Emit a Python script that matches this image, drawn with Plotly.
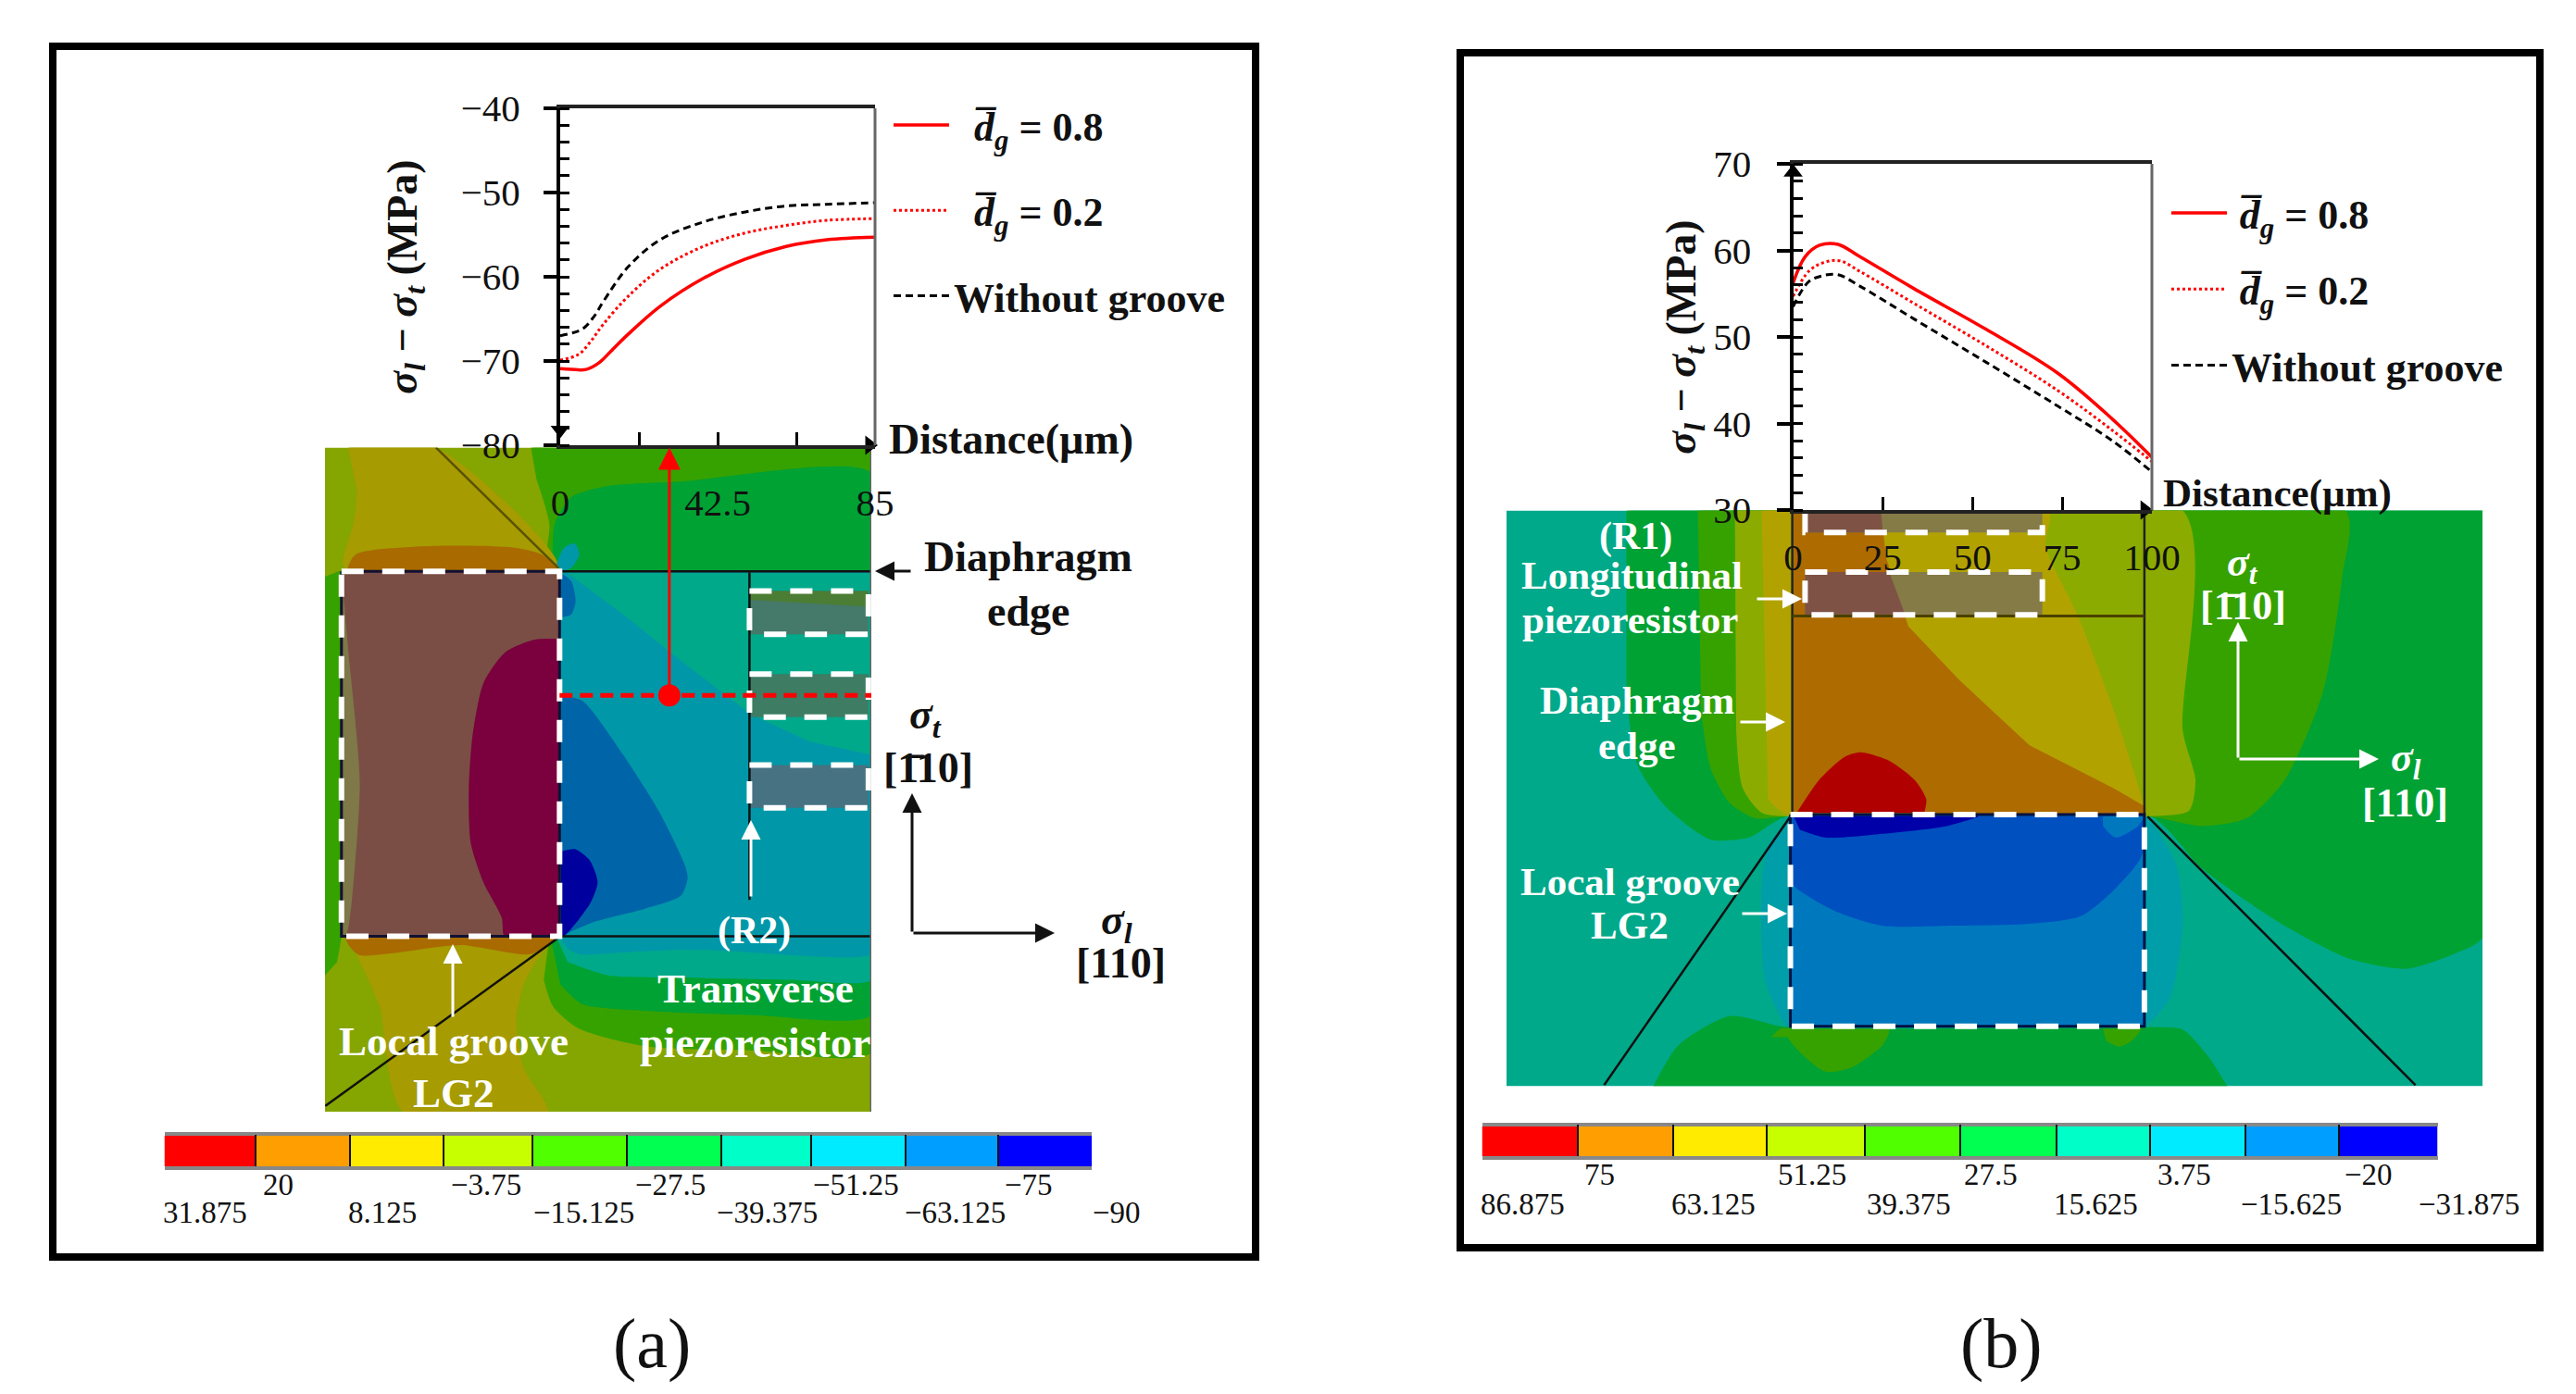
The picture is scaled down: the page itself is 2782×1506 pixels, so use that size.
import plotly.graph_objects as go

W, H = 2782, 1506
FONT = "Liberation Serif"

# ---- line chart data ----
a_x_08 = [0, 3, 7, 10.5, 14, 18.4, 27, 38.6, 50, 61, 72, 85]
a_y_08 = [-70.9, -71.0, -71.0, -70.2, -68.7, -66.8, -63.5, -60.2, -57.9, -56.4, -55.6, -55.3]
a_x_02 = [0, 5, 8, 11.7, 18.4, 27, 38.6, 50, 61, 72, 85]
a_y_02 = [-69.9, -69.2, -67.8, -65.6, -62.3, -59.1, -56.4, -54.8, -53.9, -53.3, -53.1]
a_x_no = [0, 6, 9, 11.7, 18.4, 27, 38.6, 50, 61, 72, 85]
a_y_no = [-67.0, -66.2, -64.8, -62.9, -58.8, -55.6, -53.5, -52.3, -51.6, -51.4, -51.2]

b_x_08 = [0, 3.4, 7.4, 12.5, 18.5, 33.6, 53.7, 73.8, 89, 100]
b_y_08 = [56.25, 59.3, 60.6, 60.7, 59.3, 55.6, 50.9, 45.8, 40.5, 36.1]
b_x_02 = [0, 4.4, 8.5, 13, 18.5, 33.6, 53.7, 73.8, 89, 100]
b_y_02 = [54.7, 57.6, 58.6, 58.8, 57.6, 53.9, 49.0, 43.8, 39.2, 35.6]
b_x_no = [0, 4.4, 8.5, 12.5, 18.5, 33.6, 53.7, 73.8, 89, 100]
b_y_no = [53.5, 56.4, 57.1, 57.2, 55.9, 52.1, 47.1, 42.0, 38.0, 34.4]

a_yticks = [-80, -70, -60, -50, -40]
a_ylabels = ["\u221280", "\u221270", "\u221260", "\u221250", "\u221240"]
a_xticks = [0, 21.25, 42.5, 63.75, 85]
a_xlabels = ["0", " ", "42.5", " ", "85"]
b_yticks = [30, 40, 50, 60, 70]
b_ylabels = ["30", "40", "50", "60", "70"]
b_xticks = [0, 25, 50, 75, 100]
b_xlabels = ["0", "25", "50", "75", "100"]

# ---- colour bars ----
band_colors = ["#FF0000", "#FF9E00", "#FFEB00", "#C8FF00", "#50FF00",
               "#00FF50", "#00FFC8", "#00EBFF", "#009EFF", "#0000FF"]
cb_a_edges = [25, 165, 310, 455, 592, 737, 882, 1020, 1165, 1308, 1452]
cb_a_upper = ["20", "\u22123.75", "\u221227.5", "\u221251.25", "\u221275"]
cb_a_upper_pos = [200, 520, 803, 1090, 1355]
cb_a_lower = ["31.875", "8.125", "\u221215.125", "\u221239.375", "\u221263.125", "\u221290"]
cb_a_lower_pos = [87, 360, 670, 953, 1242, 1490]
cb_b_edges = [52, 185, 317, 447, 582, 714, 848, 978, 1110, 1240, 1376]
cb_b_upper = ["75", "51.25", "27.5", "3.75", "\u221220"]
cb_b_upper_pos = [215, 510, 757, 1025, 1280]
cb_b_lower = ["86.875", "63.125", "39.375", "15.625", "\u221215.625", "\u221231.875"]
cb_b_lower_pos = [108, 373, 644, 903, 1173, 1420]

# ---- contour colours ----
DGREEN, MGREEN, OLIVE = "#00A233", "#36A200", "#85A500"
DYEL, ORANGE = "#A69B00", "#A96A00"
TEALG, TEALB, BLUE, NAVY = "#00A98A", "#0098A8", "#0065A8", "#00009E"

# ---- field (a) contour bands, in the field's own grid units ----
fa_xr = [27, 1520]
fa_yr = [1528, 28]
fa_base = [(27, 28), (1520, 28), (1520, 1528), (27, 1528)]
fa_top_mgreen = [(590, 28), (1520, 28), (1520, 320), (640, 320), (640, 200), (605, 100)]
fa_top_dgreen = [(650, 320), (655, 200), (700, 140), (800, 115), (1000, 105), (1520, 85), (1520, 320)]
fa_top_yellow = [(90, 28), (330, 28), (665, 300), (80, 300), (105, 200), (115, 130)]
fa_top_orange = [(85, 310), (110, 270), (350, 250), (550, 255), (620, 270), (665, 305), (85, 312)]
fa_left_green = [(27, 320), (72, 305), (72, 1135), (60, 1190), (27, 1220)]
fa_right_teal = [(668, 308), (1520, 308), (1520, 1172), (1000, 1162), (720, 1172), (668, 1132)]
fa_right_tealg = [(690, 312), (1520, 312), (1520, 722), (1350, 692), (1190, 630), (1000, 510), (850, 410)]
fa_right_blue = [(672, 590), (730, 600), (840, 720), (940, 850), (1010, 970), (1018, 1000),
                 (1000, 1040), (900, 1070), (760, 1100), (672, 1132)]
fa_small_blue = [(672, 312), (700, 330), (712, 375), (700, 405), (672, 412)]
fa_navy = [(672, 940), (710, 935), (750, 960), (772, 1010), (750, 1060), (680, 1132), (672, 1132)]
fa_knob = [(660, 290), (680, 255), (710, 245), (722, 270), (700, 300), (672, 308)]
fa_groove = [(72, 308), (668, 308), (668, 1132), (72, 1132)]
fa_groove_olive = [(72, 312), (90, 480), (122, 780), (110, 960), (85, 1128), (72, 1128)]
fa_groove_maroon = [(668, 460), (600, 462), (520, 490), (460, 560), (430, 680), (420, 800), (425, 920), (460, 1010),
                    (510, 1090), (515, 1128), (525, 1130), (650, 1130), (666, 1130), (667, 1115), (667, 480)]
fa_low_yellow = [(90, 1135), (665, 1135), (620, 1170), (570, 1240), (550, 1320), (570, 1430),
                 (635, 1528), (240, 1528), (190, 1370), (180, 1300), (140, 1220)]
fa_low_mgreen = [(640, 1135), (1520, 1135), (1520, 1395), (1200, 1390), (900, 1380), (720, 1340),
                 (650, 1290), (625, 1230)]
fa_low_dgreen = [(645, 1140), (1520, 1140), (1520, 1310), (1200, 1310), (900, 1300), (730, 1285),
                 (670, 1240)]
fa_low_tealg = [(660, 1135), (1520, 1135), (1520, 1230), (1300, 1230), (1000, 1225), (800, 1220), (690, 1190)]
fa_low_teal = [(665, 1132), (1520, 1132), (1520, 1172), (1000, 1160), (720, 1172), (690, 1160)]
fa_low_orange = [(80, 1132), (665, 1132), (590, 1172), (540, 1170), (400, 1152), (120, 1174), (90, 1150)]
fa_res1 = [(1187, 352), (1512, 352), (1512, 450), (1187, 450)]
fa_res1_band = [(1187, 352), (1512, 352), (1512, 388), (1187, 372)]
fa_res2 = [(1187, 540), (1512, 540), (1512, 637), (1187, 637)]
fa_res3 = [(1187, 745), (1512, 745), (1512, 842), (1187, 842)]

fa_layers = [
    (fa_base, OLIVE, False), (fa_top_mgreen, MGREEN, True), (fa_top_dgreen, DGREEN, True),
    (fa_top_yellow, DYEL, True), (fa_top_orange, ORANGE, True), (fa_left_green, MGREEN, False),
    (fa_low_yellow, DYEL, True), (fa_low_mgreen, MGREEN, True), (fa_low_dgreen, DGREEN, True),
    (fa_low_tealg, TEALG, True), (fa_low_teal, TEALB, True), (fa_low_orange, ORANGE, True),
    (fa_right_teal, TEALB, False), (fa_right_tealg, TEALG, False), (fa_right_blue, BLUE, True),
    (fa_small_blue, BLUE, True), (fa_navy, NAVY, True), (fa_knob, TEALB, True),
    (fa_groove, "#7A4E45", False), (fa_groove_olive, "#7F7848", True), (fa_groove_maroon, "#7A003E", True),
    (fa_res1, "#45796A", False), (fa_res1_band, "#4B7D34", False), (fa_res2, "#3E7C64", False), (fa_res3, "#467282", False),
]
fa_lines = [
    ([(330, 28), (665, 300)], "#5A5200", 2.5), ([(28, 1515), (665, 1135)], "#111111", 2.5),
    ([(668, 308), (1520, 308)], "#111111", 2.5), ([(668, 1132), (1520, 1132)], "#111111", 2.5),
    ([(1187, 310), (1187, 1050)], "#111111", 2.5), ([(72, 308), (668, 308), (668, 1132), (72, 1132), (72, 308)], "#111133", 3),
    ([(1520, 28), (1520, 1528)], "#666666", 3),
]
fa_dashed = [
    [(72, 308), (668, 308), (668, 1132), (72, 1132), (72, 308)],
    fa_res1 + fa_res1[:1], fa_res2 + fa_res2[:1], fa_res3 + fa_res3[:1],
]
fa_red_line = [(668, 588), (1520, 588)]
fa_red_dot = [(968, 588)]

# ---- field (b) contour bands ----
fb_xr = [10, 1540]
fb_yr = [1528, 28]
B_YEL, B_OR = "#B2A200", "#AE6B00"
fb_base = [(10, 28), (1540, 28), (1540, 1528), (10, 1528)]
fb_dgreen = [(198, 28), (1540, 28), (1540, 1140), (1500, 1180), (1420, 1222), (1330, 1195), (1220, 1100),
             (1100, 960), (1015, 820), (450, 825), (390, 880), (330, 885), (260, 800), (215, 690), (198, 500)]
fb_mgreen = [(310, 28), (1325, 28), (1320, 200), (1290, 500), (1230, 730), (1170, 830), (1100, 850),
             (1015, 825), (450, 825), (400, 830), (360, 790), (330, 700), (315, 550)]
fb_olive = [(368, 28), (1070, 28), (1070, 600), (1090, 730), (1080, 810), (1015, 825), (455, 825),
            (410, 815), (380, 750), (370, 600)]
fb_yellow = [(410, 28), (860, 28), (855, 120), (905, 300), (960, 540), (1010, 800), (1012, 820),
             (450, 820), (420, 780)]
fb_orange = [(460, 28), (597, 28), (605, 150), (640, 330), (720, 470), (830, 640), (960, 750),
             (1012, 800), (1012, 822), (460, 822)]
fb_red = [(465, 815), (500, 730), (540, 670), (565, 658), (610, 680), (650, 730), (668, 780), (665, 815)]
fb_halo = [(457, 826), (420, 900), (410, 1000), (415, 1250), (450, 1372), (470, 1372), (990, 1372), (1010, 1372),
           (1050, 1300), (1070, 1100), (1060, 950), (1013, 826), (990, 824), (480, 824)]
fb_groove = [(455, 820), (1010, 820), (1010, 1372), (455, 1372)]
fb_blue = [(458, 824), (475, 824), (990, 824), (1008, 824), (1005, 930), (960, 1020), (910, 1085), (830, 1105), (700, 1110),
           (600, 1110), (530, 1075), (480, 1030), (458, 1000), (458, 850)]
fb_navy = [(460, 824), (480, 824), (730, 824), (750, 824), (700, 850), (600, 870), (510, 880), (470, 860)]
fb_corner = [(945, 824), (960, 824), (1000, 824), (1008, 826), (1000, 850), (965, 880), (945, 850)]
fb_low_dgreen = [(240, 1528), (280, 1420), (360, 1345), (440, 1372), (470, 1376), (990, 1376), (1030, 1374), (1070, 1380),
                 (1110, 1450), (1140, 1528)]
fb_low_m1 = [(425, 1400), (440, 1378), (460, 1378), (590, 1378), (610, 1380), (600, 1420), (550, 1480), (510, 1490), (470, 1440), (450, 1400)]
fb_low_m2 = [(945, 1378), (960, 1378), (990, 1378), (1005, 1378), (990, 1410), (970, 1425), (950, 1410)]
fb_r_top = [(478, 28), (850, 28), (850, 85), (478, 85)]
fb_r_top_l = [(478, 28), (597, 28), (600, 85), (478, 85)]
fb_r_low = [(478, 188), (850, 188), (850, 300), (478, 300)]
fb_r_low_l = [(478, 188), (610, 188), (635, 300), (478, 300)]

fb_layers = [
    (fb_base, TEALG, False), (fb_dgreen, DGREEN, True), (fb_mgreen, MGREEN, True), (fb_olive, "#8CAB00", True),
    (fb_yellow, B_YEL, True), (fb_orange, B_OR, False), (fb_red, "#B00000", True), (fb_halo, "#009EA8", True),
    (fb_groove, "#0078BE", False), (fb_blue, "#0050C0", True), (fb_navy, "#0000A8", True), (fb_corner, "#0078BE", True),
    (fb_low_dgreen, DGREEN, True), (fb_low_m1, MGREEN, True), (fb_low_m2, MGREEN, True),
    (fb_r_top, "#857B47", False), (fb_r_top_l, "#7E5345", False), (fb_r_low, "#857B47", False), (fb_r_low_l, "#7E5345", False),
]
fb_lines = [
    ([(458, 28), (458, 820)], "#222222", 2.5), ([(1010, 28), (1010, 820)], "#222222", 2.5),
    ([(458, 303), (1010, 303)], "#4A4000", 3), ([(455, 825), (163, 1525)], "#111111", 2.5),
    ([(1015, 825), (1435, 1525)], "#111111", 2.5),
    ([(455, 820), (1010, 820), (1010, 1372), (455, 1372), (455, 820)], "#001144", 3),
]
fb_dashed = [
    fb_groove + fb_groove[:1],
    [(478, 28), (478, 85), (850, 85), (850, 28)],
    fb_r_low + fb_r_low[:1],
]


def dx(a, b):
    return [a / W, b / W]


def dy(a, b):
    return [1 - b / H, 1 - a / H]


fig = go.Figure()


def add_field(layers, lines, dashed, xa, ya):
    for pts, col, smooth in layers:
        fig.add_trace(go.Scatter(x=[p[0] for p in pts], y=[p[1] for p in pts], mode="lines", fill="toself",
                                 fillcolor=col, line=dict(width=0, shape="spline" if smooth else "linear", smoothing=0.7),
                                 hoverinfo="skip", showlegend=False, xaxis=xa, yaxis=ya))
    for pts, col, w in lines:
        fig.add_trace(go.Scatter(x=[p[0] for p in pts], y=[p[1] for p in pts], mode="lines",
                                 line=dict(color=col, width=w), hoverinfo="skip", showlegend=False, xaxis=xa, yaxis=ya))
    for pts in dashed:
        fig.add_trace(go.Scatter(x=[p[0] for p in pts], y=[p[1] for p in pts], mode="lines",
                                 line=dict(color="white", width=6, dash="24px,20px"), hoverinfo="skip",
                                 showlegend=False, xaxis=xa, yaxis=ya))


add_field(fa_layers, fa_lines, fa_dashed, "x", "y")
fig.add_trace(go.Scatter(x=[p[0] for p in fa_red_line], y=[p[1] for p in fa_red_line], mode="lines",
                         line=dict(color="#FF0000", width=5, dash="14px,8px"), hoverinfo="skip", showlegend=False, xaxis="x", yaxis="y"))
fig.add_trace(go.Scatter(x=[p[0] for p in fa_red_dot], y=[p[1] for p in fa_red_dot], mode="markers",
                         marker=dict(color="#FF0000", size=24), hoverinfo="skip", showlegend=False, xaxis="x", yaxis="y"))
add_field(fb_layers, fb_lines, fb_dashed, "x2", "y2")

# colour bars
n = len(band_colors)
scale = []
for i, c in enumerate(band_colors):
    scale += [[i / n, c], [(i + 1) / n, c]]
fig.add_trace(go.Heatmap(z=[list(range(n))], x=cb_a_edges, y=[0, 1], colorscale=scale, zmin=-0.5, zmax=n - 0.5,
                         showscale=False, hoverinfo="skip", xaxis="x3", yaxis="y3"))
fig.add_trace(go.Heatmap(z=[list(range(n))], x=cb_b_edges, y=[0, 1], colorscale=scale, zmin=-0.5, zmax=n - 0.5,
                         showscale=False, hoverinfo="skip", xaxis="x4", yaxis="y4"))

# line charts
A_KEY08 = "<b>\u2002<i>d\u0305<sub>g</sub></i> = 0.8</b>"
A_KEY02 = "<b>\u2002<i>d\u0305<sub>g</sub></i> = 0.2</b>"
B_KEY08 = "<b>\u2009<i>d\u0305<sub>g</sub></i> = 0.8</b>"
B_KEY02 = "<b>\u2009<i>d\u0305<sub>g</sub></i> = 0.2</b>"
KEYNO = "<b>Without groove</b>"
for xs, ys, name, ln, xa, ya, lg in [
    (a_x_08, a_y_08, A_KEY08, dict(color="#FF0000", width=3.5), "x5", "y5", "legend"),
    (a_x_02, a_y_02, A_KEY02, dict(color="#FF0000", width=3, dash="dot"), "x5", "y5", "legend"),
    (a_x_no, a_y_no, KEYNO, dict(color="#000000", width=3, dash="8px,5px"), "x5", "y5", "legend"),
    (b_x_08, b_y_08, B_KEY08, dict(color="#FF0000", width=3.5), "x6", "y6", "legend2"),
    (b_x_02, b_y_02, B_KEY02, dict(color="#FF0000", width=3, dash="dot"), "x6", "y6", "legend2"),
    (b_x_no, b_y_no, KEYNO, dict(color="#000000", width=3, dash="8px,5px"), "x6", "y6", "legend2"),
]:
    ln = dict(ln, shape="spline", smoothing=1.0)
    fig.add_trace(go.Scatter(x=xs, y=ys, name=name, mode="lines", line=ln, xaxis=xa, yaxis=ya, legend=lg,
                             legendgroup=lg + name, cliponaxis=False))

for xs, ys, sym, xa, ya in [
    ([0], [-78.2], "triangle-down", "x5", "y5"), ([83.5], [-80], "triangle-right", "x5", "y5"),
    ([0], [69], "triangle-up", "x6", "y6"), ([98], [30], "triangle-right", "x6", "y6"),
]:
    fig.add_trace(go.Scatter(x=xs, y=ys, mode="markers", marker=dict(symbol=sym, color="black", size=18),
                             hoverinfo="skip", showlegend=False, cliponaxis=False, xaxis=xa, yaxis=ya))

tickf = dict(family=FONT, size=41, color="#111111")


def yax(dom, rng, vals, text, anchor, minor_d, stand, title_stand):
    return dict(domain=dom, range=rng, anchor=anchor, tickvals=vals, ticktext=text, ticks="outside", ticklen=14, tickwidth=4,
                tickcolor="black", showline=True, linecolor="black", linewidth=4, showgrid=False, zeroline=False,
                tickfont=tickf, ticklabelstandoff=stand, automargin=False,
                minor=dict(ticks="inside", dtick=minor_d, ticklen=10, tickwidth=3, tickcolor="black", showgrid=False),
                title=dict(text="<b><i>\u03c3<sub>l</sub></i> \u2212 <i>\u03c3<sub>t</sub></i> (MPa)</b>",
                           font=dict(family=FONT, size=46, color="#111111"), standoff=title_stand))


def xax(dom, rng, vals, text, anchor, stand):
    return dict(domain=dom, range=rng, anchor=anchor, tickvals=vals, ticktext=text, ticks="inside", ticklen=14, tickwidth=3,
                tickcolor="black", showline=True, linecolor="#222222", linewidth=4, mirror=True, showgrid=False, zeroline=False,
                tickfont=tickf, ticklabelstandoff=stand, automargin=False)


def hidden(dom, rng, anchor):
    return dict(domain=dom, range=rng, anchor=anchor, visible=False, fixedrange=True)


def barx(dom, rng, anchor, vals):
    return dict(domain=dom, range=rng, anchor=anchor, tickvals=vals, ticks="inside", ticklen=34, tickwidth=2, tickcolor="#111111",
                showticklabels=False, showline=True, linecolor="#888888", linewidth=4, mirror=True, showgrid=False, zeroline=False)


def T(text, X, Y, size=44, color="white", bold=True, xanchor="center"):
    s = f"<b>{text}</b>" if bold else text
    return dict(text=s, x=X / W, y=1 - Y / H, xref="paper", yref="paper", showarrow=False, xanchor=xanchor, yanchor="middle",
                font=dict(family=FONT, size=size, color=color))


def arrow(X0, Y0, X1, Y1, color="white", w=3, size=1.4):
    return dict(text="", x=X1 / W, y=1 - Y1 / H, xref="paper", yref="paper", ax=X0 - X1, ay=Y0 - Y1, axref="pixel", ayref="pixel",
                showarrow=True, arrowhead=2, arrowcolor=color, arrowwidth=w, arrowsize=size, standoff=0)


SIG_T = "<i>\u03c3<sub>t</sub></i>"
SIG_L = "<i>\u03c3<sub>l</sub></i>"
ann = [
    T("Distance(\u00b5m)", 958, 475, 46, "#111111", True, "left"),
    T("Diaphragm", 1110, 601, 46, "#111111"), T("edge", 1110, 660, 46, "#111111"),
    T(SIG_T, 1000, 775, 46, "#111111"), T("[1\u030410]", 1002, 830, 46, "#111111"),
    T(SIG_L, 1206, 997, 46, "#111111"), T("[110]", 1210, 1040, 46, "#111111"),
    T("(R2)", 814, 1006, 42), T("Transverse", 816, 1068, 45), T("piezoresistor", 816, 1126, 46),
    T("Local groove", 490, 1125, 45), T("LG2", 490, 1181, 45),
    arrow(985, 617, 945, 617, "#111111"), arrow(985, 1008, 985, 857, "#111111"), arrow(985, 1008, 1139, 1008, "#111111"),
    arrow(489, 1100, 489, 1020), arrow(811, 970, 811, 886),
    dict(text="", x=968, y=28, xref="x", yref="y", ax=968, ay=588, axref="x", ayref="y", showarrow=True, arrowhead=2,
         arrowcolor="#FF0000", arrowwidth=3, arrowsize=1.6, standoff=0),
    T("Distance(\u00b5m)", 2334, 533, 43, "#111111", True, "left"),
    T("(R1)", 1766, 579, 42), T("Longitudinal", 1762, 621, 43), T("piezoresistor", 1761, 669, 43),
    T("Diaphragm", 1768, 756, 43), T("edge", 1768, 805, 43), T("Local groove", 1760, 952, 43), T("LG2", 1760, 999, 43),
    T(SIG_T, 2422, 610, 44), T("[1\u030410]", 2422, 654, 44), T(SIG_L, 2598, 822, 44), T("[110]", 2597, 867, 44),
    arrow(1896, 647, 1946, 647), arrow(1878, 780, 1928, 780), arrow(1880, 987, 1930, 987),
    arrow(2417, 820, 2417, 672), arrow(2417, 820, 2569, 820),
    T("(a)", 704, 1451, 76, "#111111", False), T("(b)", 2161, 1451, 76, "#111111", False),
]


def bar_label_x(p, edges, X0, X1):
    return (X0 + (p - edges[0]) / (edges[-1] - edges[0]) * (X1 - X0)) / W


for labels, pos, Y, edges, X0, X1 in [
    (cb_a_upper, cb_a_upper_pos, 1280, cb_a_edges, 177.5, 1179), (cb_a_lower, cb_a_lower_pos, 1310, cb_a_edges, 177.5, 1179),
    (cb_b_upper, cb_b_upper_pos, 1269, cb_b_edges, 1600.5, 2632.5), (cb_b_lower, cb_b_lower_pos, 1301, cb_b_edges, 1600.5, 2632.5),
]:
    for t, p in zip(labels, pos):
        ann.append(dict(text=t, x=bar_label_x(p, edges, X0, X1), y=1 - Y / H, xref="paper", yref="paper", showarrow=False,
                        xanchor="center", yanchor="middle", font=dict(family=FONT, size=33, color="#111111")))

frame = dict(type="rect", xref="paper", yref="paper", line=dict(color="black", width=8), fillcolor="white", layer="below")
shapes = [
    dict(frame, x0=57 / W, x1=1356 / W, y0=1 - 50 / H, y1=1 - 1358 / H),
    dict(frame, x0=1577 / W, x1=2743 / W, y0=1 - 57 / H, y1=1 - 1348 / H),
    dict(type="line", xref="x5 domain", yref="y5 domain", x0=1, x1=1, y0=0, y1=1, line=dict(color="#666666", width=3)),
    dict(type="line", xref="x6 domain", yref="y6 domain", x0=1, x1=1, y0=0, y1=1, line=dict(color="#666666", width=3)),
]

legend_common = dict(bgcolor="rgba(0,0,0,0)", itemwidth=60, xanchor="left", yanchor="top", traceorder="grouped",
                     font=dict(family=FONT, size=44, color="#111111"), itemclick=False, itemdoubleclick=False)

fig.update_layout(
    width=W, height=H, margin=dict(l=0, r=0, t=0, b=0), template="none", paper_bgcolor="white", plot_bgcolor="rgba(0,0,0,0)",
    showlegend=True, font=dict(family=FONT),
    xaxis=hidden(dx(351, 941), fa_xr, "y"), yaxis=hidden(dy(483.4, 1201), fa_yr, "x"),
    xaxis2=hidden(dx(1627, 2681), fb_xr, "y2"), yaxis2=hidden(dy(551.6, 1173.5), fb_yr, "x2"),
    xaxis3=barx(dx(177.5, 1179), [cb_a_edges[0], cb_a_edges[-1]], "y3", cb_a_edges),
    yaxis3=hidden(dy(1227, 1260), [0, 1], "x3"),
    xaxis4=barx(dx(1600.5, 2632.5), [cb_b_edges[0], cb_b_edges[-1]], "y4", cb_b_edges),
    yaxis4=hidden(dy(1217, 1249), [0, 1], "x4"),
    xaxis5=xax(dx(605, 945), [0, 85], a_xticks, a_xlabels, "y5", 23),
    yaxis5=yax(dy(117, 481), [-80, -40], a_yticks, a_ylabels, "x5", 2, 17, 34),
    xaxis6=xax(dx(1936.5, 2324), [0, 100], b_xticks, b_xlabels, "y6", 12),
    yaxis6=yax(dy(177, 551), [30, 70], b_yticks, b_ylabels, "x6", 2, 19, 5),
    legend=dict(legend_common, x=960 / W, y=1 - 100 / H, tracegroupgap=32),
    legend2=dict(legend_common, x=2340 / W, y=1 - 195 / H, tracegroupgap=22),
    annotations=ann, shapes=shapes,
)
fig.write_html("out.html", config={"displayModeBar": False},
               post_script="document.body.style.margin='0';document.documentElement.style.overflow='hidden';")
